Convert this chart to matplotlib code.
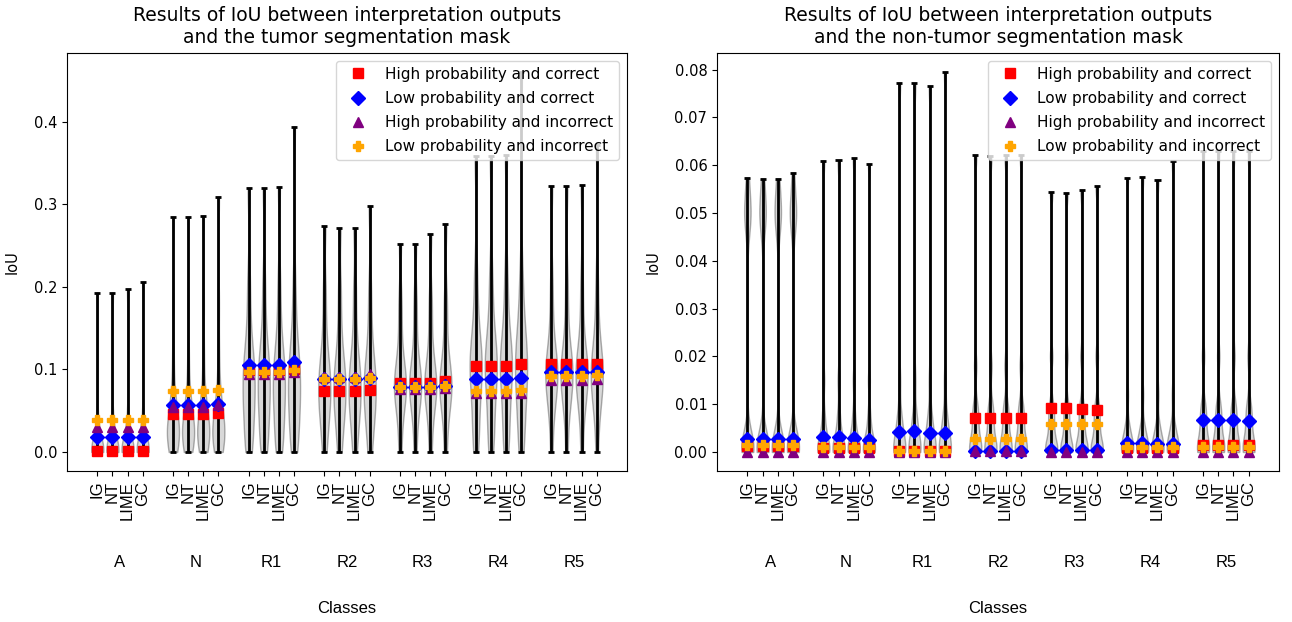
import matplotlib.pyplot as plt
import numpy as np

classes = ["A", "N", "R1", "R2", "R3", "R4", "R5"]
methods = ["IG", "NT", "LIME", "GC"]

# largest IoU per violin (class x method)
tumor_max = [[0.193, 0.193, 0.197, 0.206],
             [0.285, 0.285, 0.286, 0.309],
             [0.320, 0.319, 0.321, 0.394],
             [0.273, 0.271, 0.271, 0.298],
             [0.252, 0.252, 0.264, 0.276],
             [0.358, 0.358, 0.360, 0.460],
             [0.322, 0.322, 0.323, 0.372]]
nontumor_max = [[0.0574, 0.0572, 0.0572, 0.0584],
                [0.0609, 0.0610, 0.0615, 0.0603],
                [0.0773, 0.0771, 0.0765, 0.0795],
                [0.0621, 0.0620, 0.0621, 0.0622],
                [0.0543, 0.0542, 0.0548, 0.0556],
                [0.0574, 0.0575, 0.0570, 0.0608],
                [0.0630, 0.0630, 0.0630, 0.0630]]

# bulk of the IoU values of each class (shared by the four methods)
tumor_body = [[0.0, 0.0, 0.0, 0.0, 0.0, 0.0, 0.0, 0.0, 0.005, 0.01, 0.02, 0.04],
              [0.0, 0.005, 0.01, 0.015, 0.02, 0.02, 0.025, 0.03, 0.035, 0.04, 0.05, 0.06, 0.08, 0.12, 0.18],
              [0.0, 0.01, 0.02, 0.04, 0.05, 0.06, 0.07, 0.08, 0.09, 0.1, 0.11, 0.12, 0.14, 0.17, 0.21],
              [0.0, 0.02, 0.04, 0.05, 0.06, 0.07, 0.08, 0.09, 0.1, 0.11, 0.13, 0.16, 0.2],
              [0.0, 0.03, 0.05, 0.06, 0.07, 0.08, 0.08, 0.09, 0.1, 0.11, 0.13, 0.16, 0.19],
              [0.0, 0.02, 0.04, 0.06, 0.08, 0.09, 0.1, 0.11, 0.12, 0.13, 0.15, 0.18, 0.22],
              [0.0, 0.04, 0.06, 0.07, 0.08, 0.09, 0.1, 0.1, 0.11, 0.12, 0.14, 0.17, 0.21]]
nontumor_body = [[0.0, 0.0, 0.0, 0.0, 0.0, 0.001, 0.002, 0.003, 0.005, 0.045, 0.048, 0.05, 0.05, 0.052, 0.055],
                 [0.0, 0.0, 0.0, 0.0, 0.001, 0.002, 0.003, 0.005, 0.008, 0.015],
                 [0.0, 0.0, 0.0, 0.0, 0.001, 0.002, 0.004, 0.006, 0.008, 0.015],
                 [0.0, 0.0, 0.0, 0.001, 0.002, 0.004, 0.006, 0.008, 0.01, 0.018],
                 [0.0, 0.0, 0.0, 0.001, 0.002, 0.004, 0.006, 0.008, 0.01, 0.02],
                 [0.0, 0.0, 0.0, 0.0, 0.001, 0.002, 0.003, 0.004, 0.006, 0.012],
                 [0.0, 0.0, 0.0, 0.001, 0.002, 0.004, 0.006, 0.008, 0.01, 0.02]]

# mean IoU for each prediction group
tumor_hc = [[0.001, 0.001, 0.001, 0.001],
            [0.046, 0.046, 0.046, 0.047],
            [0.099, 0.099, 0.099, 0.100],
            [0.074, 0.074, 0.074, 0.075],
            [0.084, 0.084, 0.084, 0.086],
            [0.104, 0.104, 0.104, 0.107],
            [0.106, 0.106, 0.106, 0.107]]
tumor_lc = [[0.018, 0.018, 0.018, 0.018],
            [0.057, 0.057, 0.057, 0.058],
            [0.105, 0.105, 0.105, 0.109],
            [0.088, 0.088, 0.088, 0.089],
            [0.079, 0.079, 0.079, 0.080],
            [0.088, 0.088, 0.088, 0.089],
            [0.097, 0.097, 0.097, 0.097]]
tumor_hi = [[0.030, 0.030, 0.030, 0.030],
            [0.055, 0.055, 0.055, 0.057],
            [0.095, 0.095, 0.095, 0.097],
            [0.091, 0.091, 0.091, 0.095],
            [0.076, 0.076, 0.076, 0.077],
            [0.071, 0.071, 0.071, 0.072],
            [0.087, 0.087, 0.087, 0.088]]
tumor_li = [[0.039, 0.039, 0.039, 0.039],
            [0.074, 0.074, 0.074, 0.075],
            [0.097, 0.097, 0.097, 0.099],
            [0.088, 0.088, 0.088, 0.090],
            [0.079, 0.079, 0.079, 0.080],
            [0.074, 0.074, 0.074, 0.075],
            [0.092, 0.092, 0.092, 0.093]]

nontumor_hc = [[0.0013, 0.0013, 0.0013, 0.0013],
               [0.0008, 0.0008, 0.0008, 0.0008],
               [0.0002, 0.0002, 0.0002, 0.0002],
               [0.0071, 0.0071, 0.0071, 0.0071],
               [0.0092, 0.0092, 0.0090, 0.0088],
               [0.0009, 0.0009, 0.0009, 0.0009],
               [0.0015, 0.0015, 0.0015, 0.0015]]
nontumor_lc = [[0.0027, 0.0027, 0.0027, 0.0028],
               [0.0031, 0.0031, 0.0029, 0.0025],
               [0.0042, 0.0043, 0.0040, 0.0040],
               [0.0003, 0.0003, 0.0003, 0.0003],
               [0.0004, 0.0004, 0.0004, 0.0004],
               [0.0019, 0.0018, 0.0017, 0.0017],
               [0.0067, 0.0067, 0.0066, 0.0065]]
nontumor_hi = [[0.0, 0.0, 0.0, 0.0],
               [0.0, 0.0, 0.0, 0.0],
               [0.0, 0.0, 0.0, 0.0],
               [0.0002, 0.0002, 0.0002, 0.0002],
               [0.0, 0.0, 0.0, 0.0],
               [0.0, 0.0, 0.0, 0.0],
               [0.0, 0.0, 0.0, 0.0]]
nontumor_li = [[0.0015, 0.0015, 0.0015, 0.0015],
               [0.0011, 0.0011, 0.0011, 0.0011],
               [0.0003, 0.0003, 0.0003, 0.0003],
               [0.0027, 0.0027, 0.0027, 0.0027],
               [0.0059, 0.0059, 0.0059, 0.0059],
               [0.0010, 0.0010, 0.0010, 0.0010],
               [0.0011, 0.0011, 0.0011, 0.0011]]

titles = ["Results of IoU between interpretation outputs\nand the tumor segmentation mask",
          "Results of IoU between interpretation outputs\nand the non-tumor segmentation mask"]
labels = ["High probability and correct", "Low probability and correct",
          "High probability and incorrect", "Low probability and incorrect"]

fig = plt.figure(figsize=(12.92, 6.22), dpi=100)
ax1 = fig.add_axes([67 / 1292, 151 / 622, 560 / 1292, 418 / 622])
ax2 = fig.add_axes([717 / 1292, 151 / 622, 562 / 1292, 418 / 622])

pos = [5 * g + m for g in range(len(classes)) for m in range(len(methods))]
lab_font = "Liberation Sans"


def draw(ax, body, mx, hc, lc, hi, li, title, bw):
    data = []
    for g in range(len(classes)):
        for m in range(len(methods)):
            data.append(body[g] + [mx[g][m]])
    parts = ax.violinplot(data, positions=pos, widths=0.8, bw_method=bw)
    for b in parts["bodies"]:
        b.set_facecolor("grey")
        b.set_edgecolor("black")
        b.set_alpha(0.3)
    for k in ("cbars", "cmins", "cmaxes"):
        parts[k].set_color("black")
        parts[k].set_linewidth(2)

    flat = lambda a: [v for row in a for v in row]
    ax.plot(pos, flat(hc), "s", color="red", ms=7, ls="none", label=labels[0])
    ax.plot(pos, flat(lc), "D", color="blue", ms=7, ls="none", label=labels[1])
    ax.plot(pos, flat(hi), "^", color="purple", ms=7, ls="none", label=labels[2])
    ax.plot(pos, flat(li), "P", color="orange", ms=7, ls="none", label=labels[3])

    ax.set_xlim(-2, 35)
    ax.set_xticks(pos)
    ax.set_xticklabels(methods * len(classes), rotation=90, fontsize=12, family=lab_font)
    ax.tick_params(axis="y", labelsize=10.5)
    for g, c in enumerate(classes):
        ax.text(5 * g + 1.5, -0.22, c, transform=ax.get_xaxis_transform(),
                ha="center", va="center", fontsize=12, family=lab_font)
    ax.text(0.5, -0.328, "Classes", transform=ax.transAxes,
            ha="center", va="center", fontsize=12, family=lab_font)
    ax.set_ylabel("IoU", fontsize=10.5, labelpad=10)
    ax.set_title(title, fontsize=13.5, pad=7)
    ax.legend(loc="upper right", fontsize=11, labelspacing=0.6)


draw(ax1, tumor_body, tumor_max, tumor_hc, tumor_lc, tumor_hi, tumor_li, titles[0], 0.3)
draw(ax2, nontumor_body, nontumor_max, nontumor_hc, nontumor_lc, nontumor_hi, nontumor_li, titles[1], 0.12)

fig.savefig("out.png", dpi=100)
